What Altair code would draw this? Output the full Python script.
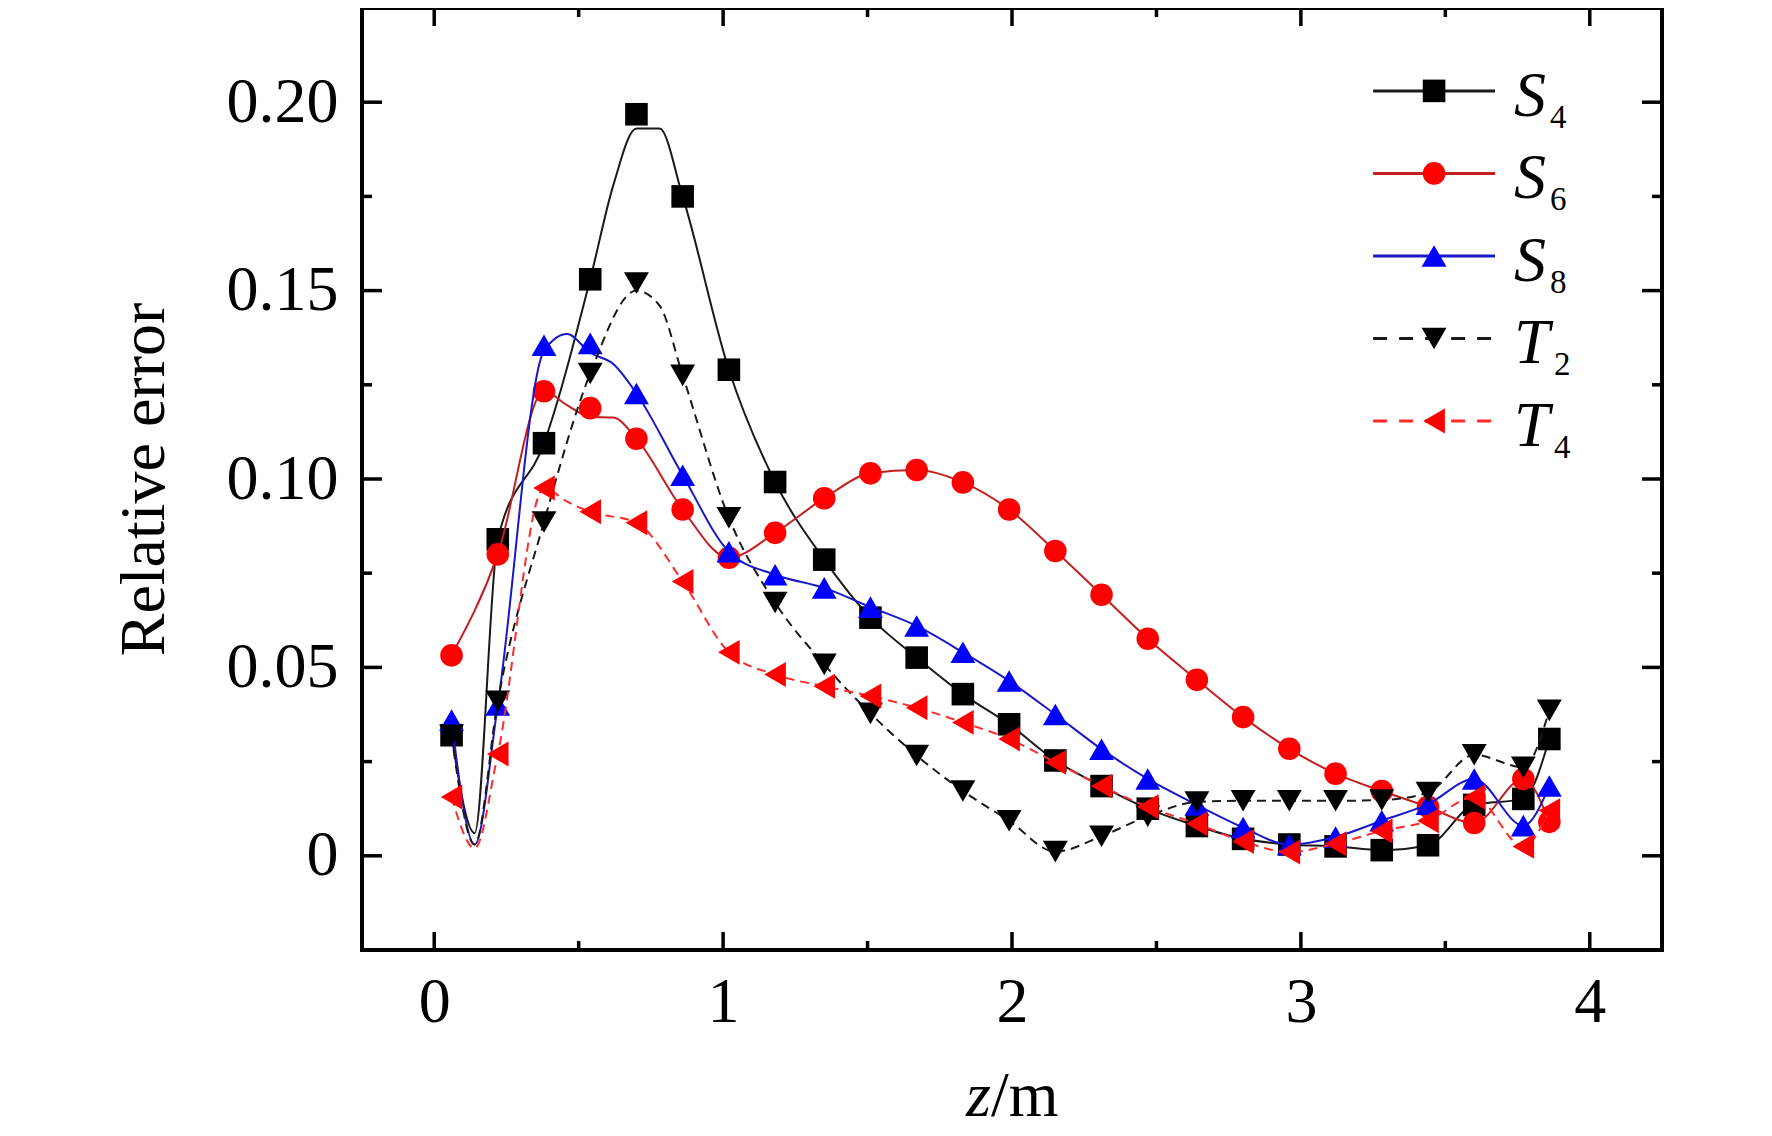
import altair as alt
import pandas as pd

# ---------------- data ----------------
X = [0.06, 0.22, 0.38, 0.54, 0.70, 0.86, 1.02, 1.18, 1.35, 1.51, 1.67, 1.83, 1.99,
     2.15, 2.31, 2.47, 2.64, 2.80, 2.96, 3.12, 3.28, 3.44, 3.60, 3.77, 3.86]

S4 = [0.032, 0.084, 0.1095, 0.153, 0.1968, 0.175, 0.129, 0.0992, 0.0786, 0.0632, 0.0526,
      0.0429, 0.0349, 0.0253, 0.0185, 0.0125, 0.0079, 0.0045, 0.003, 0.0025, 0.0015,
      0.0028, 0.0135, 0.0151, 0.031]
S6 = [0.0532, 0.080, 0.1233, 0.1188, 0.1107, 0.0919, 0.0791, 0.0857, 0.0949, 0.1015, 0.1024,
      0.0991, 0.0919, 0.0809, 0.0693, 0.0576, 0.0467, 0.0368, 0.0284, 0.0218, 0.0172,
      0.013, 0.0087, 0.0204, 0.009]
S8 = [0.036, 0.040, 0.1355, 0.136, 0.1227, 0.101, 0.0807, 0.0746, 0.0711, 0.066, 0.061,
      0.054, 0.0464, 0.0375, 0.0283, 0.0204, 0.0135, 0.0075, 0.003, 0.005, 0.0093,
      0.0137, 0.0204, 0.008, 0.0185]
T2 = [0.032, 0.041, 0.0886, 0.128, 0.152, 0.1275, 0.0897, 0.0672, 0.0508, 0.0378, 0.0266,
      0.0172, 0.0093, 0.0011, 0.0052, 0.0105, 0.0143, 0.0146, 0.0146, 0.0146, 0.0148,
      0.0168, 0.0268, 0.0235, 0.0386]
T4 = [0.0156, 0.027, 0.0976, 0.0913, 0.0884, 0.0728, 0.054, 0.0481, 0.045, 0.0424, 0.0393,
      0.0354, 0.031, 0.0248, 0.0185, 0.013, 0.0085, 0.0038, 0.001, 0.0032, 0.0066,
      0.0093, 0.0156, 0.0025, 0.012]

# curve vertices read where the drawn curve leaves the markers
S4_line_x = [0.06, 0.14, 0.22, 0.38, 0.54, 0.62, 0.70, 0.78] + X[5:]
S4_line_y = [0.032, 0.006, 0.084, 0.1095, 0.153, 0.178, 0.193, 0.193] + S4[5:]
S6_line_x = [0.06, 0.22, 0.38, 0.46, 0.54, 0.62, 0.70] + X[5:]
S6_line_y = [0.0532, 0.080, 0.1233, 0.1196, 0.1165, 0.1163, 0.1107] + S6[5:]
S8_line_x = [0.06, 0.14, 0.22, 0.38, 0.46, 0.54, 0.62, 0.70] + X[5:]
S8_line_y = [0.036, 0.003, 0.040, 0.134, 0.1385, 0.1335, 0.1305, 0.1227] + S8[5:]
T2_line_x = [0.06, 0.14, 0.22, 0.38, 0.54, 0.70, 0.78] + X[5:]
T2_line_y = [0.032, 0.003, 0.041, 0.0886, 0.128, 0.150, 0.146] + T2[5:]
T4_line_x = [0.06, 0.14, 0.22, 0.38, 0.46, 0.54, 0.70] + X[5:]
T4_line_y = [0.0156, 0.002, 0.027, 0.0976, 0.094, 0.0913, 0.0884] + T4[5:]

SERIES = ["S4", "S6", "S8", "T2", "T4"]
MARKERS = {"S4": S4, "S6": S6, "S8": S8, "T2": T2, "T4": T4}
LINES = {"S4": (S4_line_x, S4_line_y), "S6": (S6_line_x, S6_line_y),
         "S8": (S8_line_x, S8_line_y), "T2": (T2_line_x, T2_line_y),
         "T4": (T4_line_x, T4_line_y)}

X_TICKS = [0, 1, 2, 3, 4]
X_MINOR = [0.5, 1.5, 2.5, 3.5]
Y_TICKS = [0, 0.05, 0.10, 0.15, 0.20]
Y_MINOR = [0.025, 0.075, 0.125, 0.175]

# ---------------- styles / layout ----------------
STYLE = {
    "S4": dict(letter="S", sub="4", color="#000000", line="#1a1a1a", shape="square", size=510, dash=None),
    "S6": dict(letter="S", sub="6", color="#ff0000", line="#c41e1e", shape="circle", size=510, dash=None),
    "S8": dict(letter="S", sub="8", color="#0000ff", line="#1818c8", shape="triangle-up", size=620, dash=None),
    "T2": dict(letter="T", sub="2", color="#000000", line="#1a1a1a", shape="triangle-down", size=620, dash=[9, 6]),
    "T4": dict(letter="T", sub="4", color="#ff0000", line="#ff2a2a", shape="triangle-left", size=620, dash=[9, 6]),
}
W, H = 1300, 942
FONT = "Liberation Serif"

xs = alt.Scale(domain=[-0.25, 4.25], nice=False, zero=False)
ys = alt.Scale(domain=[-0.025, 0.225], nice=False, zero=False)
x_axis = alt.Axis(values=X_TICKS, title=None, labelPadding=20, labelExpr="format(datum.value, 'd')")
y_axis = alt.Axis(values=Y_TICKS, title="Relative error", labelPadding=24, titlePadding=50,
                  labelExpr="datum.value == 0 ? '0' : format(datum.value, '.2f')")


def xenc(f):
    return alt.X(f, type="quantitative", scale=xs, axis=x_axis)


def yenc(f):
    return alt.Y(f, type="quantitative", scale=ys, axis=y_axis)


layers = []


def vticks(vals, length, top):
    df = pd.DataFrame({"v": vals})
    if top:
        y0, y1 = 0, length
    else:
        y0, y1 = H, H - length
    return alt.Chart(df).mark_rule(color="black", strokeWidth=3.5).encode(
        x=xenc("v"), y=alt.value(y0), y2=alt.value(y1))


def hticks(vals, length, right):
    df = pd.DataFrame({"v": vals})
    if right:
        x0, x1 = W, W - length
    else:
        x0, x1 = 0, length
    return alt.Chart(df).mark_rule(color="black", strokeWidth=3.5).encode(
        y=yenc("v"), x=alt.value(x0), x2=alt.value(x1))


for top in (False, True):
    layers.append(vticks(X_TICKS, 18, top))
    layers.append(vticks(X_MINOR, 9, top))
for right in (False, True):
    layers.append(hticks(Y_TICKS, 20, right))
    layers.append(hticks(Y_MINOR, 10, right))

for s in SERIES:
    st = STYLE[s]
    lx, ly = LINES[s]
    ldf = pd.DataFrame({"x": lx, "y": ly})
    lkw = dict(interpolate="monotone", color=st["line"], strokeWidth=2)
    if st["dash"]:
        lkw["strokeDash"] = st["dash"]
    layers.append(alt.Chart(ldf).mark_line(**lkw).encode(x=xenc("x"), y=yenc("y")))
    pdf = pd.DataFrame({"x": X, "y": MARKERS[s]})
    layers.append(alt.Chart(pdf).mark_point(shape=st["shape"], filled=True, opacity=1,
                                            size=st["size"], color=st["color"],
                                            strokeWidth=0).encode(x=xenc("x"), y=yenc("y")))

# legend (in data coordinates of the plot)
LEG_X0, LEG_X1, LEG_XM, LEG_XT = 3.25, 3.672, 3.461, 3.738
LEG_TOP, LEG_STEP = 0.2030, 0.0219
for i, s in enumerate(SERIES):
    st = STYLE[s]
    yy = LEG_TOP - i * LEG_STEP
    d = pd.DataFrame({"x0": [LEG_X0], "x1": [LEG_X1], "xm": [LEG_XM], "xt": [LEG_XT],
                      "y": [yy], "letter": [st["letter"]], "sub": [st["sub"]]})
    rkw = dict(color=st["line"], strokeWidth=3)
    if st["dash"]:
        rkw["strokeDash"] = [14, 12]
    layers.append(alt.Chart(d).mark_rule(**rkw).encode(x=xenc("x0"), x2="x1:Q", y=yenc("y")))
    layers.append(alt.Chart(d).mark_point(shape=st["shape"], filled=True, opacity=1,
                                          size=st["size"], color=st["color"],
                                          strokeWidth=0).encode(x=xenc("xm"), y=yenc("y")))
    layers.append(alt.Chart(d).mark_text(align="left", baseline="alphabetic", dy=25,
                                         font=FONT, fontSize=64, fontStyle="italic",
                                         color="black").encode(x=xenc("xt"), y=yenc("y"),
                                                               text="letter:N"))
    layers.append(alt.Chart(d).mark_text(align="left", baseline="alphabetic",
                                         dx=36 if st["letter"] == "S" else 40, dy=37,
                                         font=FONT, fontSize=33, color="black").encode(
        x=xenc("xt"), y=yenc("y"), text="sub:N"))

# x-axis title  "z/m"  (z italic)
zdf = pd.DataFrame({"t": ["z"]})
mdf = pd.DataFrame({"t": ["/m"]})
layers.append(alt.Chart(zdf).mark_text(align="right", baseline="alphabetic", font=FONT,
                                       fontSize=64, fontStyle="italic", color="black").encode(
    x=alt.value(W / 2 - 21), y=alt.value(H + 166), text="t:N"))
layers.append(alt.Chart(mdf).mark_text(align="left", baseline="alphabetic", font=FONT,
                                       fontSize=64, color="black").encode(
    x=alt.value(W / 2 - 21), y=alt.value(H + 166), text="t:N"))

chart = alt.layer(*layers).properties(
    width=W, height=H,
    padding={"left": 354, "top": 0, "right": 100, "bottom": 180},
    autosize=alt.AutoSizeParams(type="none"),
    background="white",
).configure(font=FONT).configure_view(stroke="black", strokeWidth=4).configure_axis(
    domain=False, ticks=False, tickSize=0, grid=False,
    labelFont=FONT, labelFontSize=64, labelColor="black",
    titleFont=FONT, titleFontSize=64, titleColor="black", titleFontWeight="normal",
)

chart.save("out.html", embed_options={"renderer": "svg", "actions": False})
